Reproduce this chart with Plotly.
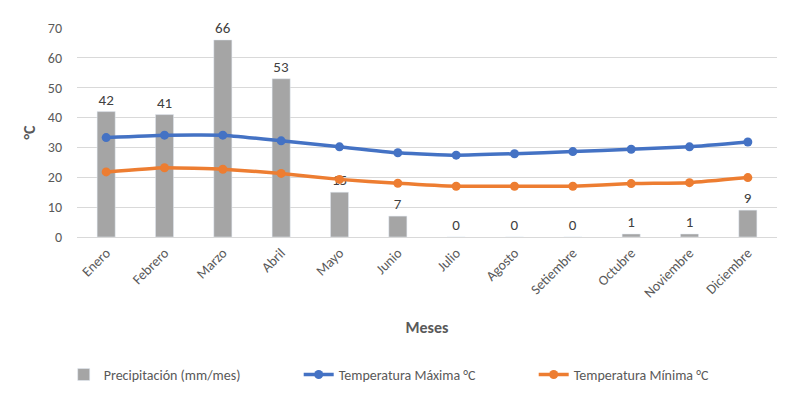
import plotly.graph_objects as go

meses = ["Enero", "Febrero", "Marzo", "Abril", "Mayo", "Junio", "Julio",
         "Agosto", "Setiembre", "Octubre", "Noviembre", "Diciembre"]
precipitacion = [42, 41, 66, 53, 15, 7, 0, 0, 0, 1, 1, 9]
temp_max = [33.3, 34.1, 34.1, 32.2, 30.2, 28.2, 27.4, 27.9, 28.6, 29.4, 30.2, 31.8]
temp_min = [21.8, 23.2, 22.7, 21.3, 19.3, 18.0, 17.0, 17.0, 17.0, 17.9, 18.2, 19.9]

font = "Carlito, Liberation Sans Narrow, Liberation Sans, sans-serif"

fig = go.Figure()
fig.add_trace(go.Bar(x=meses, y=precipitacion, name="Precipitación (mm/mes)",
                     marker=dict(color="#a5a5a5"),
                     text=precipitacion, textposition="outside", cliponaxis=False,
                     textfont=dict(size=15, color="#404040", family=font)))
fig.add_trace(go.Scatter(x=meses, y=temp_max, name="Temperatura Máxima °C",
                         mode="lines+markers",
                         line=dict(color="#4472c4", width=3.5, shape="spline", smoothing=0.4),
                         marker=dict(size=9, color="#4472c4")))
fig.add_trace(go.Scatter(x=meses, y=temp_min, name="Temperatura Mínima °C",
                         mode="lines+markers",
                         line=dict(color="#ed7d31", width=3.5, shape="spline", smoothing=0.4),
                         marker=dict(size=9, color="#ed7d31")))

fig.update_layout(
    width=798, height=397,
    margin=dict(l=77, r=21, t=28, b=160, autoexpand=False),
    paper_bgcolor="white", plot_bgcolor="white",
    font=dict(family=font, color="#595959", size=13),
    bargap=0.69,
    showlegend=True,
    legend=dict(orientation="h", x=-0.019, xanchor="left", y=-0.66, yanchor="middle",
                font=dict(size=14, color="#595959"),
                entrywidth=190, entrywidthmode="pixels"),
)
fig.update_xaxes(range=[-0.5, len(meses) - 0.5], tickangle=-45, tickfont=dict(size=14), automargin=False,
                 title=dict(text="<b>Meses</b>", font=dict(size=16, color="#595959"), standoff=21),
                 showline=False, ticks="", ticklabelstandoff=4)
fig.update_yaxes(range=[0, 70], dtick=10, gridcolor="#d9d9d9", gridwidth=1,
                 zeroline=True, zerolinecolor="#d9d9d9", zerolinewidth=1, automargin=False,
                 tickfont=dict(size=14), ticklabelstandoff=14,
                 title=dict(text="<b>°C</b>", font=dict(size=16, color="#595959"), standoff=8))

fig.write_html("out.html", config={"displayModeBar": False},
               post_script="document.body.style.margin='0';")
